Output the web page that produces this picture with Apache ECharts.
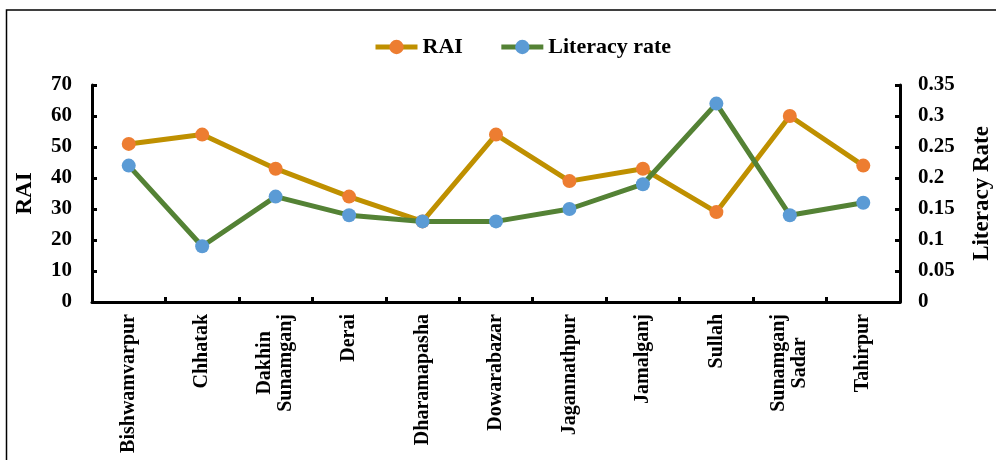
<!DOCTYPE html>
<html>
<head>
<meta charset="utf-8">
<script src="https://cdn.jsdelivr.net/npm/echarts@6/dist/echarts.min.js"></script>
<style>
  html, body { margin: 0; padding: 0; background: #fff; }
  #chart { width: 996px; height: 460px; }
</style>
</head>
<body>
<div id="chart"></div>
<script>
// Upazilas of Sunamganj district
const upazilas = ['Bishwamvarpur', 'Chhatak', 'Dakhin\nSunamganj', 'Derai', 'Dharamapasha',
  'Dowarabazar', 'Jagannathpur', 'Jamalganj', 'Sullah', 'Sunamganj\nSadar', 'Tahirpur'];
// RAI per upazila (left axis)
const raiValues = [51, 54, 43, 34, 26, 54, 39, 43, 29, 60, 44];
// Literacy rate per upazila (right axis)
const literacyValues = [0.22, 0.09, 0.17, 0.14, 0.13, 0.13, 0.15, 0.19, 0.32, 0.14, 0.16];
// Axis ranges
const raiAxis = { min: 0, max: 70, interval: 10 };
const literacyAxis = { min: 0, max: 0.35, interval: 0.05 };

const serif = '"Liberation Serif", "DejaVu Serif", serif';
const chart = echarts.init(document.getElementById('chart'), null, { renderer: 'canvas' });

const axisLine = { show: true, lineStyle: { color: '#000', width: 3 } };
const axisTick = { show: true, inside: true, length: 5, lineStyle: { color: '#000', width: 3 } };
const tickFont = { color: '#000', fontFamily: serif, fontWeight: 'bold', fontSize: 21 };
const nameFont = { color: '#000', fontFamily: serif, fontWeight: 'bold', fontSize: 23 };

chart.setOption({
  animation: false,
  backgroundColor: '#fff',
  graphic: [{
    type: 'rect',
    shape: { x: 6.5, y: 10, width: 1100, height: 500 },
    style: { fill: 'none', stroke: '#000', lineWidth: 1.5 },
    silent: true
  }],
  legend: {
    top: 31,
    left: 368,
    itemGap: 36,
    itemWidth: 42,
    itemHeight: 18,
    lineStyle: { width: 5 },
    textStyle: { color: '#000', fontFamily: serif, fontWeight: 'bold', fontSize: 22 },
    data: ['RAI', 'Literacy rate']
  },
  grid: { left: 92, right: 96, top: 85, bottom: 158, outerBoundsMode: 'none', containLabel: false },
  xAxis: {
    type: 'category',
    data: upazilas,
    boundaryGap: true,
    axisLine: axisLine,
    axisTick: axisTick,
    axisLabel: {
      rotate: 90, margin: 12, interval: 0,
      formatter: v => v.split('\n').map(s => '{c|' + s + '}').join('\n'),
      rich: {
        c: { align: 'center', color: '#000', fontFamily: serif, fontWeight: 'bold', fontSize: 20, lineHeight: 21 }
      }
    }
  },
  yAxis: [{
    type: 'value',
    min: raiAxis.min, max: raiAxis.max, interval: raiAxis.interval,
    name: 'RAI',
    nameLocation: 'middle',
    nameRotate: 90,
    nameGap: 55,
    nameTextStyle: nameFont,
    splitLine: { show: false },
    axisLine: axisLine,
    axisTick: axisTick,
    axisLabel: Object.assign({}, tickFont, { margin: 20 })
  }, {
    type: 'value',
    position: 'right',
    min: literacyAxis.min, max: literacyAxis.max, interval: literacyAxis.interval,
    name: 'Literacy Rate',
    nameLocation: 'middle',
    nameRotate: 90,
    nameGap: 71,
    nameTextStyle: nameFont,
    splitLine: { show: false },
    axisLine: axisLine,
    axisTick: axisTick,
    axisLabel: Object.assign({}, tickFont, { margin: 18, formatter: v => String(+v.toFixed(2)) })
  }],
  series: [{
    name: 'RAI',
    type: 'line',
    yAxisIndex: 0,
    data: raiValues,
    symbol: 'circle',
    symbolSize: 14,
    lineStyle: { color: '#BF9000', width: 5 },
    itemStyle: { color: '#ED7D31' },
    z: 2
  }, {
    name: 'Literacy rate',
    type: 'line',
    yAxisIndex: 1,
    data: literacyValues,
    symbol: 'circle',
    symbolSize: 14,
    lineStyle: { color: '#548235', width: 5 },
    itemStyle: { color: '#5B9BD5' },
    z: 3
  }]
});
</script>
</body>
</html>
